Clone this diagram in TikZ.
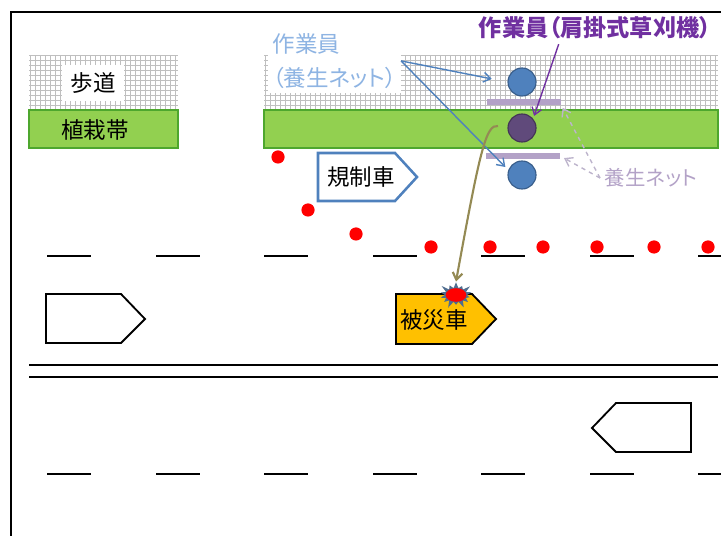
\documentclass[tikz,border=0pt]{standalone}
\usepackage{fontspec}
\setmainfont{Noto Sans CJK JP}[RawFeature=+palt]
\usetikzlibrary{arrows.meta,calc,patterns,positioning,shapes.symbols}
\definecolor{planting}{HTML}{92D050}
\definecolor{plantedge}{HTML}{4EA72E}
\definecolor{workerblue}{HTML}{4F81BD}
\definecolor{workeredge}{HTML}{385D8A}
\definecolor{mowerpurple}{HTML}{604A7B}
\definecolor{labelpurple}{HTML}{7030A0}
\definecolor{netlilac}{HTML}{B3A2C7}
\definecolor{netgray}{HTML}{BDB4CC}
\definecolor{netblue}{HTML}{8EB4E3}
\definecolor{hitolive}{HTML}{948A54}
\definecolor{hitorange}{HTML}{FFC000}
\definecolor{burst}{HTML}{4F6D8F}
\tikzset{
  jp/.style={font=\fontsize{16pt}{19pt}\selectfont},
  walkgrid/.style={draw=gray!50,line width=0.35pt,step=0.125cm},
  worker/.style={circle,draw=workeredge,fill=workerblue,line width=0.8pt,minimum size=0.7cm,inner sep=0pt},
  netbar/.style={fill=netlilac,minimum width=1.85cm,minimum height=0.15cm,inner sep=0pt},
  lane/.style={line width=1.3pt},
  tip/.style={-{Straight Barb[length=5pt,width=7pt]},line width=1pt},
  netdash/.style={dashed,netgray,line width=1pt,-{Straight Barb[length=5pt,width=7pt]}}
}
\begin{document}
\begin{tikzpicture}[x=0.025cm,y=-0.025cm]
\useasboundingbox (0,0) rectangle (721,536);
\clip (0,0) rectangle (721,536);
\draw[line width=1.4pt] (11,545) -- (11,12) -- (730,12);
% sidewalks and planting strips
\draw[walkgrid] (29,55) grid (178,110);
\draw[walkgrid] (264,55) grid (718,110);
\draw[plantedge,fill=planting,line width=1pt] (29,110) rectangle (178,148);
\draw[plantedge,fill=planting,line width=1pt] (264,110) rectangle (718,148);
\node[jp,fill=white,minimum width=1.55cm,minimum height=0.9cm] (walk) at (93,83) {歩道};
\node[jp] (plant) at (95,130) {植栽帯};
% lanes
\foreach \x in {47,156,264,373,481,590,698} {
  \draw[lane] (\x,256) -- ++(44,0);
  \draw[lane] (\x,474) -- ++(44,0);
}
\draw[lane] (29,365) -- (718,365);
\draw[lane] (29,377) -- (718,377);
\foreach \x/\y in {278/157,308/210,356/234,431/247,490/247,543/247,597/247,654/247,708/247}
  \fill[red] (\x,\y) circle[radius=0.165cm];
% vehicles
\draw[line width=1.3pt] (46,294) -- (121,294) -- (145,319) -- (121,343) -- (46,343) -- cycle;
\draw[line width=1.3pt] (691,403) -- (616,403) -- (592,428) -- (616,452) -- (691,452) -- cycle;
\draw[workerblue,line width=1.8pt,fill=white] (318,153) -- (395,153) -- (417,177) -- (395,201) -- (318,201) -- cycle;
\node[jp] (reg) at (361,177) {規制車};
\draw[line width=1.3pt,fill=hitorange] (396,294) -- (472,294) -- (496,319) -- (472,344) -- (396,344) -- cycle;
\node[jp] (victim) at (434,320) {被災車};
\node[starburst,starburst points=14,starburst point height=0.2cm,fill=burst,minimum width=0.95cm,minimum height=0.75cm,inner sep=0pt] (hit) at (456,295) {};
\fill[red] (hit) ellipse (0.26cm and 0.17cm);
% workers and nets
\node[worker] (wkA) at (522,82) {};
\node[worker,fill=mowerpurple,draw=mowerpurple!70!black] (wkB) at (522,128) {};
\node[worker] (wkC) at (522,175) {};
\node[netbar] (netA) at (524,102) {};
\node[netbar] (netB) at (523,156) {};
% labels
\node[text=labelpurple,font=\fontsize{16.5pt}{19pt}\selectfont\bfseries] (mower) at (595,28) {作業員（肩掛式草刈機）};
\node[text=netblue,font=\fontsize{16pt}{24pt}\selectfont,fill=white,align=left,anchor=north west,inner sep=3pt] (guard) at (268,29) {作業員\\（養生ネット）};
\node[text=netlilac,font=\fontsize{14.5pt}{17pt}\selectfont] (netlbl) at (651,178) {養生ネット};
\draw[tip,labelpurple,shorten >=2pt] ($(mower.south)!0.3!(mower.south west)$) -- (wkB.40);
\draw[tip,workerblue,shorten >=0.4cm] (guard.east) -- (wkA.west);
\draw[tip,workerblue,shorten >=3pt] (guard.east) -- (wkC.160);
\draw[netdash,shorten >=2pt] (netlbl.west) -- (netA.south east);
\draw[netdash,shorten >=3pt] (netlbl.west) -- (netB.east);
\coordinate (swing) at (498,126);
\draw[tip,hitolive,line width=1.5pt] (swing) .. controls (486,124) and (480,150) .. (hit.north);
\end{tikzpicture}
\end{document}
